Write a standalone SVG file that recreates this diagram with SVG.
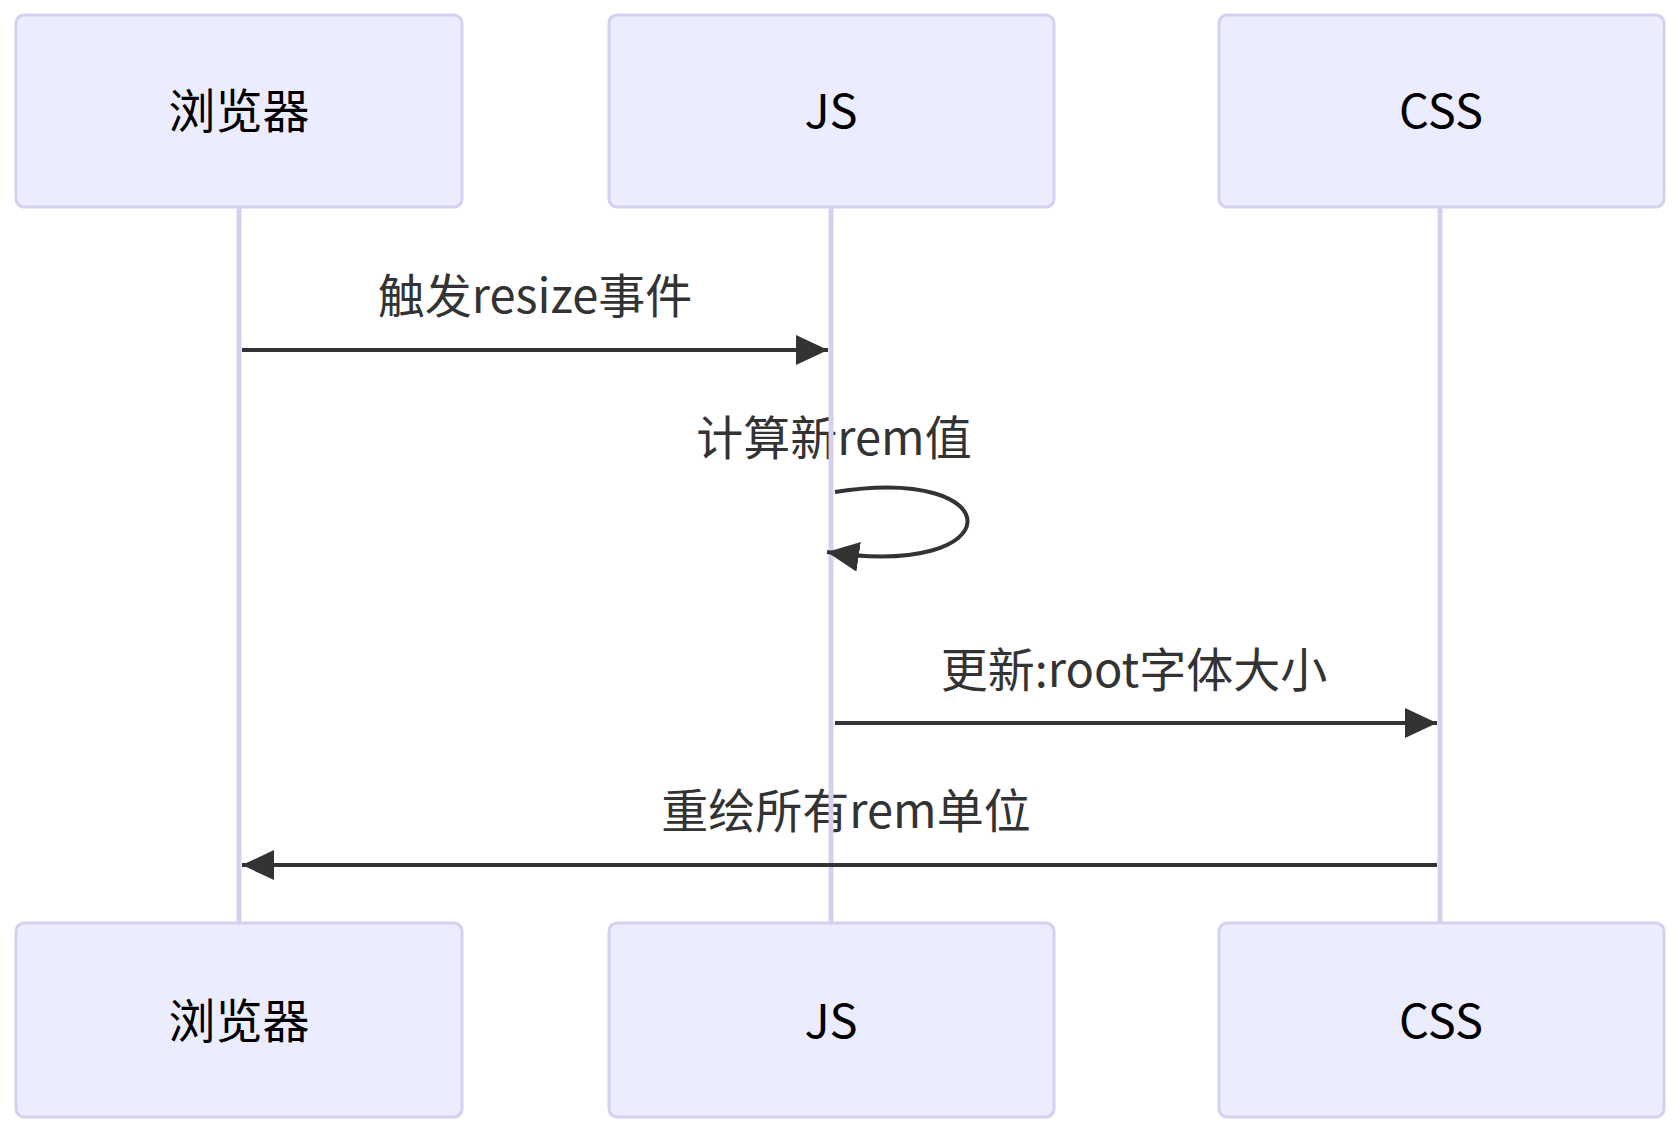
<svg xmlns="http://www.w3.org/2000/svg" width="1678" height="1130" viewBox="0 0 1678 1130">
<style>
.actor{fill:#ECECFF;stroke:#D5CFF1;stroke-width:3}
.atext{font-family:"Noto Sans CJK SC","Noto Sans",sans-serif;font-size:47px;fill:#000;text-anchor:middle;dominant-baseline:central}
.mtext{font-family:"Noto Sans CJK SC","Noto Sans",sans-serif;font-size:47px;fill:#333;text-anchor:middle;dominant-baseline:central}
.life{stroke:#D5D0F0;stroke-width:5;fill:none}
.msg{stroke:#333;stroke-width:4;fill:none;marker-end:url(#arrow)}
</style>
<defs>
<marker id="arrow" viewBox="0 0 32 30" markerWidth="32" markerHeight="30" refX="32" refY="15" markerUnits="userSpaceOnUse" orient="auto">
<path d="M0,0 L32,15 L0,30 z" fill="#333"/>
</marker>
</defs>
<rect width="1678" height="1130" fill="#fff"/>
<g id="labels">
<text class="mtext" x="535" y="292">触发resize事件</text>
<text class="mtext" x="834" y="434">计算新rem值</text>
<text class="mtext" x="1134" y="666">更新:root字体大小</text>
<text class="mtext" x="846" y="807">重绘所有rem单位</text>
</g>
<g id="lifelines">
<line class="life" x1="239" y1="207" x2="239" y2="923"/>
<line class="life" x1="831" y1="207" x2="831" y2="923"/>
<line class="life" x1="1440" y1="207" x2="1440" y2="923"/>
</g>
<g id="actor-browser-top"><rect class="actor" x="16" y="15" width="446" height="192" rx="8"/><text class="atext" x="239" y="107">浏览器</text></g>
<g id="actor-js-top"><rect class="actor" x="609" y="15" width="445" height="192" rx="8"/><text class="atext" x="831" y="107">JS</text></g>
<g id="actor-css-top"><rect class="actor" x="1219" y="15" width="445" height="192" rx="8"/><text class="atext" x="1441" y="107">CSS</text></g>
<g id="actor-browser-bottom"><rect class="actor" x="16" y="923" width="446" height="194" rx="8"/><text class="atext" x="239" y="1017">浏览器</text></g>
<g id="actor-js-bottom"><rect class="actor" x="609" y="923" width="445" height="194" rx="8"/><text class="atext" x="831" y="1017">JS</text></g>
<g id="actor-css-bottom"><rect class="actor" x="1219" y="923" width="445" height="194" rx="8"/><text class="atext" x="1441" y="1017">CSS</text></g>
<g id="connectors">
<line class="msg" x1="242" y1="350" x2="828" y2="350"/>
<path class="msg" d="M835,492 C1013,464 1013,580 827,552"/>
<line class="msg" x1="835" y1="723" x2="1437" y2="723"/>
<line class="msg" x1="1437" y1="865" x2="242" y2="865"/>
</g>
</svg>
